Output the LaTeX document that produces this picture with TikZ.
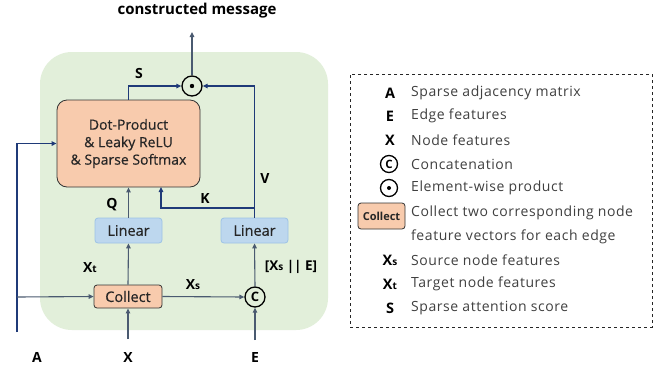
\documentclass[tikz,border=0pt]{standalone}
\usepackage{fontspec}
\setmainfont{Open Sans}
\newfontfamily\medfont[FakeBold=0.5]{Open Sans}
\newfontfamily\legfont[LetterSpace=4]{Open Sans}
\usetikzlibrary{arrows.meta}
\definecolor{bggreen}{HTML}{E2EFDA}
\definecolor{boxorange}{HTML}{F8CBAD}
\definecolor{boxblue}{HTML}{BDD7EE}
\definecolor{edgeblue}{HTML}{9DC3E6}
\definecolor{navy}{HTML}{1F3A78}
\definecolor{greyline}{HTML}{4A5A70}
\definecolor{legtext}{HTML}{404040}
\definecolor{boxtext}{HTML}{262626}
\begin{document}
\begin{tikzpicture}[x=1pt,y=-1pt,
  every node/.style={font=\fontsize{12}{14}\selectfont},
  tip/.style={-{Triangle[length=5pt,width=4.5pt]}},
  navyarrow/.style={tip,draw=navy,line width=1.5pt},
  greyarrow/.style={tip,draw=greyline,line width=1.1pt},
  boxfont/.style={font=\medfont\fontsize{14.5}{17}\selectfont,text=boxtext},
  dotbox/.style={draw=black!80,fill=boxorange,rounded corners=10pt,minimum width=143pt,minimum height=87pt,align=center,line width=0.8pt,inner sep=0pt,boxfont,font=\medfont\fontsize{14}{17.5}\selectfont},
  collectbox/.style={draw=black!80,fill=boxorange,rounded corners=3pt,minimum width=68pt,minimum height=23pt,inner sep=0pt,line width=0.8pt,boxfont},
  linbox/.style={draw=edgeblue,fill=boxblue,rounded corners=3pt,minimum width=67pt,minimum height=25pt,inner sep=0pt,line width=0.8pt,boxfont},
  opcirc/.style={circle,draw=black,line width=1.3pt,minimum size=20pt,inner sep=0pt},
  lab/.style={font=\fontsize{14}{16}\selectfont\bfseries},
  legsym/.style={font=\fontsize{14.5}{17}\selectfont\bfseries,anchor=center},
  legtxt/.style={font=\legfont\fontsize{14}{16}\selectfont,text=legtext,anchor=west,inner sep=0pt}
]
\useasboundingbox (0,0) rectangle (662,373);
\fill[white] (0,0) rectangle (662,373);
% green background
\fill[bggreen,rounded corners=32pt] (40,52) rectangle (328,330);

% nodes
\node[dotbox] (dp) at (128.5,143.5) {Dot-Product\\\& Leaky ReLU\\\& Sparse Softmax};
\node[collectbox] (col) at (128,296.5) {Collect};
\node[linbox] (l1) at (128.5,230.5) {Linear};
\node[linbox] (l2) at (254.5,230.5) {Linear};
\node[opcirc] (cc) at (255,297) {\bfseries\fontsize{13}{14}\selectfont C};
\node[opcirc] (od) at (192,86) {};
\fill (od.center) circle (2.2pt);

\coordinate (Abot) at (17,332);
\coordinate (Abr) at (17,297);
\coordinate (Xbot) at (128,339);
\coordinate (Ebot) at (255,340);
\coordinate (top) at (192,32);
\coordinate (kj) at (255,208);
\coordinate (kin) at (161,187);

% connectors
\draw[navyarrow] (Abot) |- (dp.west);
\draw[greyarrow] (Abr) -- (col.west);
\draw[greyarrow] (Xbot) -- (col.south);
\draw[greyarrow] (col.north) -- (l1.south);
\draw[greyarrow] (l1.north) -- (l1.north |- dp.south);
\draw[greyarrow] (col.east) -- (cc.west);
\draw[greyarrow] (Ebot) -- (cc.south);
\draw[greyarrow] (cc.north) -- (l2.south);
\draw[navyarrow] (l2.north) |- (od.east);
\draw[navyarrow] (kj) -| (kin);
\draw[navyarrow] (dp.north) |- (od.west);
\draw[greyarrow] (od.north) -- (top);

% labels
\node[lab,font=\fontsize{15}{17}\selectfont\bfseries] (tcm) at (197,11) {constructed message};
\node[lab] (tS) at (139,73) {S};
\node[lab] (tV) at (265,178) {V};
\node[lab] (tK) at (205,198) {K};
\node[lab] (tQ) at (112,205) {Q};
\node[lab] (tXt) at (90,268) {X{\fontsize{10}{10}\selectfont t}};
\node[lab] (tXs) at (193,285) {X{\fontsize{10}{10}\selectfont s}};
\node[lab,font=\fontsize{13.5}{16}\selectfont\bfseries] (tXE) at (291,267) {[X{\fontsize{10}{10}\selectfont s} || E]};
\node[lab] (tA) at (37,357) {A};
\node[lab] (tX) at (128,357) {X};
\node[lab] (tE) at (255,357) {E};

% legend
\node[draw=black!85,dashed,line width=0.9pt,minimum width=302pt,minimum height=253pt,inner sep=0pt] (leg) at (501,200.5) {};
\node[legsym] (sA) at (390,93) {A};
\node[legtxt] (dA) at (411,93) {Sparse adjacency matrix};
\node[legsym] (sE) at (390,116) {E};
\node[legtxt] (dE) at (411,116) {Edge features};
\node[legsym] (sX) at (390,140) {X};
\node[legtxt] (dX) at (411,140) {Node features};
\node[opcirc,minimum size=17pt] (sC) at (389,164) {\bfseries\fontsize{11.5}{12}\selectfont C};
\node[legtxt] (dC) at (411,164) {Concatenation};
\node[opcirc,minimum size=17pt] (sO) at (389,188) {};
\fill (sO.center) circle (2pt);
\node[legtxt] (dO) at (411,188) {Element-wise product};
\node[collectbox,minimum width=47pt,minimum height=26pt,font=\fontsize{11}{12}\selectfont\bfseries] (sCol) at (381.5,216) {Collect};
\node[legtxt] (dCol1) at (411,213) {Collect two corresponding node};
\node[legtxt] (dCol2) at (411,237) {feature vectors for each edge};
\node[legsym] (sXs) at (390,260) {X{\fontsize{10}{10}\selectfont s}};
\node[legtxt] (dXs) at (411,260) {Source node features};
\node[legsym] (sXt) at (390,284) {X{\fontsize{10}{10}\selectfont t}};
\node[legtxt] (dXt) at (411,284) {Target node features};
\node[legsym] (sS) at (390,308) {S};
\node[legtxt] (dS) at (411,308) {Sparse attention score};
\end{tikzpicture}
\end{document}
